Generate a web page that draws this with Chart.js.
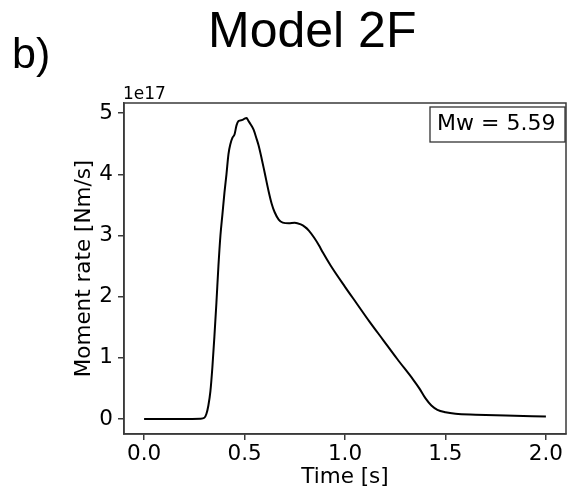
<!DOCTYPE html>
<html>
<head>
<meta charset="utf-8">
<script src="https://cdn.jsdelivr.net/npm/chart.js@4/dist/chart.umd.min.js"></script>
<style>
  html, body { margin: 0; padding: 0; background: #fff; }
  #wrap { width: 573px; height: 497px; position: relative; }
</style>
</head>
<body>
<div id="wrap"><canvas id="c" width="573" height="497"></canvas></div>
<script>
// moment rate curve, time in s, rate in units of 1e17 Nm/s
const times = [0.00, 0.10, 0.20, 0.28, 0.30, 0.31, 0.32, 0.33, 0.34, 0.35, 0.36, 0.37, 0.38, 0.39, 0.40,
  0.41, 0.42, 0.43, 0.44, 0.45, 0.46, 0.47, 0.49, 0.50, 0.51, 0.52, 0.53, 0.545, 0.56, 0.57, 0.585,
  0.60, 0.62, 0.635, 0.65, 0.67, 0.69, 0.72, 0.75, 0.78, 0.80, 0.82, 0.845, 0.87, 0.89, 0.93,
  1.00, 1.06, 1.12, 1.19, 1.26, 1.34, 1.37, 1.40, 1.43, 1.46, 1.50, 1.55, 1.65, 1.80, 2.00];
const rates = [0, 0, 0, 0.005, 0.02, 0.08, 0.22, 0.45, 0.85, 1.35, 1.9, 2.5, 3.0, 3.35, 3.7,
  4.0, 4.33, 4.5, 4.6, 4.65, 4.8, 4.87, 4.89, 4.91, 4.92, 4.87, 4.82, 4.73, 4.58, 4.47, 4.26,
  4.03, 3.72, 3.52, 3.38, 3.26, 3.21, 3.20, 3.21, 3.18, 3.14, 3.08, 2.97, 2.84, 2.72, 2.50,
  2.16, 1.88, 1.60, 1.29, 0.98, 0.64, 0.50, 0.34, 0.22, 0.15, 0.11, 0.085, 0.07, 0.055, 0.04];
const xTicks = [0, 0.5, 1.0, 1.5, 2.0];
const yTicks = [0, 1, 2, 3, 4, 5];
const mwLabel = "Mw = 5.59";

const AXIS_COLOR = "#3a3a3a";
const tickFont = { family: "DejaVu Sans", size: 21.5 };

// frame, title, panel letter, exponent and Mw box
const decor = {
  id: "decor",
  afterDraw(chart) {
    const { ctx, chartArea: a } = chart;
    ctx.save();
    ctx.strokeStyle = AXIS_COLOR;
    ctx.lineWidth = 1.5;
    ctx.strokeRect(a.left, a.top, a.right - a.left, a.bottom - a.top);

    ctx.fillStyle = "#000";
    ctx.textBaseline = "alphabetic";
    ctx.textAlign = "left";
    ctx.font = "50px 'Liberation Sans'";
    ctx.fillText("Model 2F", 208, 47);
    ctx.font = "43px 'Liberation Sans'";
    ctx.fillText("b)", 12, 68);

    ctx.font = "17px 'DejaVu Sans'";
    ctx.fillText("1e17", 123, 99);

    // Mw box
    ctx.lineWidth = 1.3;
    ctx.strokeStyle = "#333";
    ctx.fillStyle = "#fff";
    ctx.fillRect(430, 107, 135, 35);
    ctx.strokeRect(430, 107, 135, 35);
    ctx.fillStyle = "#000";
    ctx.font = "22px 'DejaVu Sans'";
    ctx.textBaseline = "middle";
    ctx.fillText(mwLabel, 437, 124.5);
    ctx.restore();
  }
};

new Chart(document.getElementById("c"), {
  type: "scatter",
  data: {
    datasets: [{
      data: times.map((t, i) => ({ x: t, y: rates[i] })),
      showLine: true,
      borderColor: "#000",
      borderWidth: 2,
      pointRadius: 0,
      cubicInterpolationMode: "monotone"
    }]
  },
  options: {
    responsive: false,
    animation: false,
    events: [],
    layout: { padding: { left: 0, top: 103, right: 7, bottom: 0 } },
    plugins: { legend: { display: false }, tooltip: { enabled: false } },
    scales: {
      x: {
        type: "linear",
        min: -0.1,
        max: 2.1,
        afterBuildTicks: s => { s.ticks = xTicks.map(v => ({ value: v })); },
        afterFit: s => { s.height = 63; },
        grid: { drawOnChartArea: false, drawTicks: true, tickLength: 6, color: AXIS_COLOR, lineWidth: 1.5 },
        border: { display: true, color: AXIS_COLOR, width: 1.5 },
        ticks: { color: "#000", font: tickFont, padding: 2, maxRotation: 0, callback: v => v.toFixed(1) },
        title: { display: true, text: "Time [s]", color: "#000", font: tickFont, padding: { top: 0, bottom: 7 } }
      },
      y: {
        type: "linear",
        min: -0.246,
        max: 5.166,
        afterBuildTicks: s => { s.ticks = yTicks.map(v => ({ value: v })); },
        afterFit: s => { s.width = 124; },
        grid: { drawOnChartArea: false, drawTicks: true, tickLength: 6, color: AXIS_COLOR, lineWidth: 1.5 },
        border: { display: true, color: AXIS_COLOR, width: 1.5 },
        ticks: { color: "#000", font: tickFont, padding: 5, callback: v => String(v) },
        title: { display: true, text: "Moment rate [Nm/s]", color: "#000", font: tickFont, padding: { top: 72, bottom: 0 } }
      }
    }
  },
  plugins: [decor]
});
</script>
</body>
</html>
